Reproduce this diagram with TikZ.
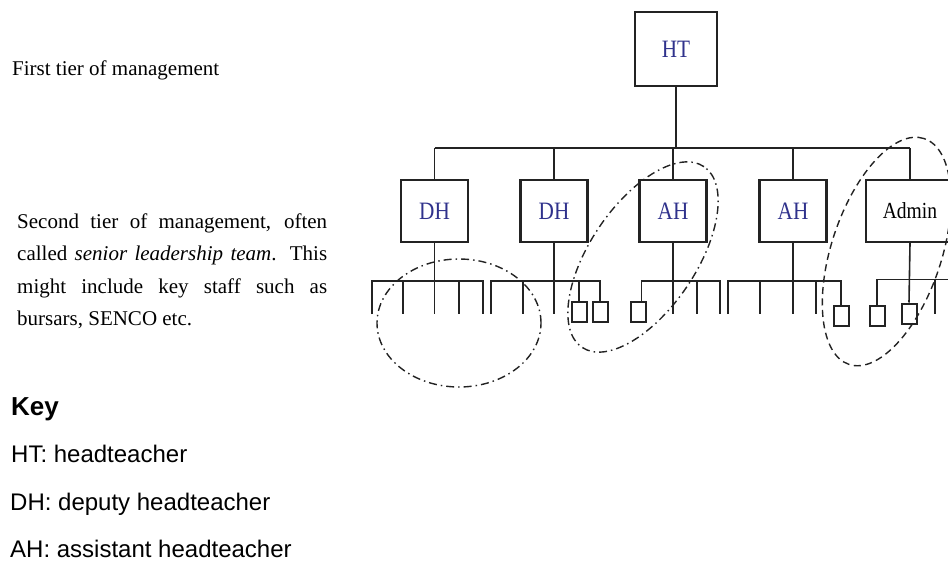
\documentclass[tikz,border=0pt]{standalone}
\usepackage{fontspec}
\setmainfont{Liberation Serif}
\newfontfamily\keyfont{Liberation Sans}
\definecolor{boxblue}{RGB}{48,50,140}
\definecolor{ln}{RGB}{35,35,35}
\newcommand{\narrowtxt}[1]{\scalebox{0.85}[1]{#1}}
\begin{document}
\begin{tikzpicture}[x=1pt,y=-1pt,
  conn/.style={draw=ln,line width=1.6pt},
  bigbox/.style={draw=ln,line width=2.1pt,inner sep=0pt,minimum width=67pt,minimum height=62pt,text=boxblue,font=\fontsize{25}{25}\selectfont},
  smallbox/.style={draw=ln,line width=2pt,inner sep=0pt,minimum width=15pt,minimum height=20pt},
  dashdotline/.style={draw=ln,line width=1.4pt,dash pattern=on 8pt off 4pt on 1.5pt off 4pt},
  dashline/.style={draw=ln,line width=1.4pt,dash pattern=on 7pt off 4.5pt},
  lbl/.style={inner sep=0pt,anchor=base west}
]
\useasboundingbox (0,0) rectangle (948,562);

% left texts
\node[lbl] (t1) at (12,75) {\fontsize{21}{25}\selectfont First tier of management};
\node[lbl,align=left,font=\fontsize{21}{32.5}\selectfont] (t2) at (17,325.5) {%
  \makebox[310pt][s]{Second tier of management, often}\\
  \makebox[310pt][s]{called \textit{senior leadership team}. This}\\
  \makebox[310pt][s]{might include key staff such as}\\
  bursars, SENCO etc.};
\node[lbl] (k0) at (11,415) {\keyfont\bfseries\fontsize{26}{26}\selectfont Key};
\node[lbl] (k1) at (11,462) {\keyfont\fontsize{24}{24}\selectfont HT: headteacher};
\node[lbl] (k2) at (10,510) {\keyfont\fontsize{24}{24}\selectfont DH: deputy headteacher};
\node[lbl] (k3) at (10,557) {\keyfont\fontsize{24}{24}\selectfont AH: assistant headteacher};

% boxes
\node[bigbox,minimum width=82pt,minimum height=74pt] (HT) at (676,49) {\narrowtxt{HT}};
\node[bigbox] (DH1) at (434.5,211) {\narrowtxt{DH}};
\node[bigbox] (DH2) at (554,211) {\narrowtxt{DH}};
\node[bigbox] (AH1) at (673,211) {\narrowtxt{AH}};
\node[bigbox] (AH2) at (793,211) {\narrowtxt{AH}};
\node[bigbox,minimum width=88pt,text=black,font=\fontsize{23}{23}\selectfont] (Adm) at (910,211) {\narrowtxt{Admin}};

\coordinate (bus) at (0,148);
\draw[conn] (HT.south) -- (HT.south |- bus);
\draw[conn] (DH1.north |- bus) -- (Adm.north |- bus);
\foreach \n in {DH1,DH2,AH1,AH2,Adm} \draw[conn] (\n.north |- bus) -- (\n.north);

% third tier
\coordinate (sb) at (0,281);
\coordinate (dr) at (0,314);
\node[smallbox] (s1) at (579,311.5) {};
\node[smallbox] (s2) at (600,311.5) {};
\node[smallbox] (s3) at (638,311.5) {};
\node[smallbox] (s4) at (841,316) {};
\node[smallbox] (s5) at (877,316) {};
\node[smallbox] (s6) at (909,313.5) {};

% group 1
\coordinate (g1a) at (372,281); \coordinate (g1b) at (483,281);
\draw[conn] (g1a |- dr) -- (g1a) -- (g1b) -- (g1b |- dr);
\draw[conn] (DH1.south) -- (DH1.south |- dr);
\foreach \x in {403,459} \draw[conn] (\x,281) -- (\x,314);
% group 2
\coordinate (g2a) at (491,281);
\draw[conn] (g2a |- dr) -- (g2a) -| (s2.north);
\draw[conn] (s1.north |- sb) -- (s1.north);
\draw[conn] (DH2.south) -- (DH2.south |- dr);
\draw[conn] (523,281) -- (523,314);
% group 3
\coordinate (g3a) at (641.5,281); \coordinate (g3b) at (720,281);
\draw[conn] (s3.north -| g3a) -- (g3a) -- (g3b) -- (g3b |- dr);
\draw[conn] (AH1.south) -- (AH1.south |- dr);
\draw[conn] (697,281) -- (697,314);
% group 4
\coordinate (g4a) at (728,281);
\draw[conn] (g4a |- dr) -- (g4a) -| (s4.north);
\draw[conn] (AH2.south) -- (AH2.south |- dr);
\foreach \x in {760,816} \draw[conn] (\x,281) -- (\x,314);
% group 5
\coordinate (g5b) at (955,279.5);
\draw[conn] (s5.north) |- (g5b);
\draw[conn] (Adm.south) -- (s6.north);
\draw[conn] (935,279.5) -- (935,314);

% ellipses
\draw[dashdotline] (459,323) ellipse [x radius=82pt, y radius=64pt];
\draw[dashdotline, rotate around={56:(643,257)}] (643,257) ellipse [x radius=109pt, y radius=53pt];
\draw[dashline, rotate around={71.6:(886.6,251.5)}] (886.6,251.5) ellipse [x radius=119pt, y radius=55pt];
\end{tikzpicture}
\end{document}
